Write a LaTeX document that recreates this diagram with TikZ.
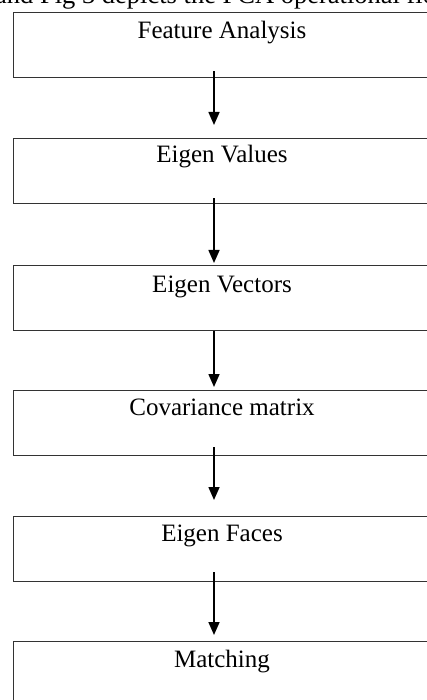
\documentclass[tikz,border=0pt]{standalone}
\usepackage{fontspec}
\setmainfont{Liberation Serif}
\usetikzlibrary{arrows.meta}
\tikzset{
  x=1pt, y=1pt,
  box/.style={draw=black!80, line width=1.3pt, rectangle, anchor=north west,
              minimum width=440pt, minimum height=65pt, inner sep=0pt},
  lbl/.style={anchor=base, inner sep=0pt, font=\fontsize{25}{30}\selectfont},
  arr/.style={draw=black, line width=1.6pt, -{Triangle[length=13pt,width=11pt]}},
}
\begin{document}
\begin{tikzpicture}
\useasboundingbox (0,0) rectangle (427,-700);
\clip (0,0) rectangle (427,-700);
\fill[white] (0,0) rectangle (427,-700);
% clipped running text at the top
\node[lbl, anchor=base west, font=\fontsize{26.5}{30}\selectfont] (top) at (-5,-4) {and Fig 3 depicts the PCA operational flow};
% boxes
\node[box] (b1) at (13,-12)  {};
\node[box] (b2) at (13,-138) {};
\node[box] (b3) at (13,-265) {};
\node[box] (b4) at (13,-390) {};
\node[box] (b5) at (13,-516) {};
\node[box] (b6) at (13,-641) {};
% labels
\node[lbl] (t1) at (222,-39)  {Feature Analysis};
\node[lbl] (t2) at (222,-163) {Eigen Values};
\node[lbl] (t3) at (222,-292) {Eigen Vectors};
\node[lbl] (t4) at (222,-415) {Covariance matrix};
\node[lbl] (t5) at (222,-541) {Eigen Faces};
\node[lbl] (t6) at (222,-667) {Matching};
% arrow column
\coordinate (ax) at (214,0);
\draw[arr] ([yshift=7pt]b1.south -| ax) -- ([yshift=13pt]b2.north -| ax);
\draw[arr] ([yshift=6pt]b2.south -| ax) -- ([yshift=2pt]b3.north -| ax);
\draw[arr] (b3.south -| ax) -- ([yshift=3pt]b4.north -| ax);
\draw[arr] ([yshift=9pt]b4.south -| ax) -- ([yshift=16pt]b5.north -| ax);
\draw[arr] ([yshift=10pt]b5.south -| ax) -- ([yshift=6pt]b6.north -| ax);
\end{tikzpicture}
\end{document}
